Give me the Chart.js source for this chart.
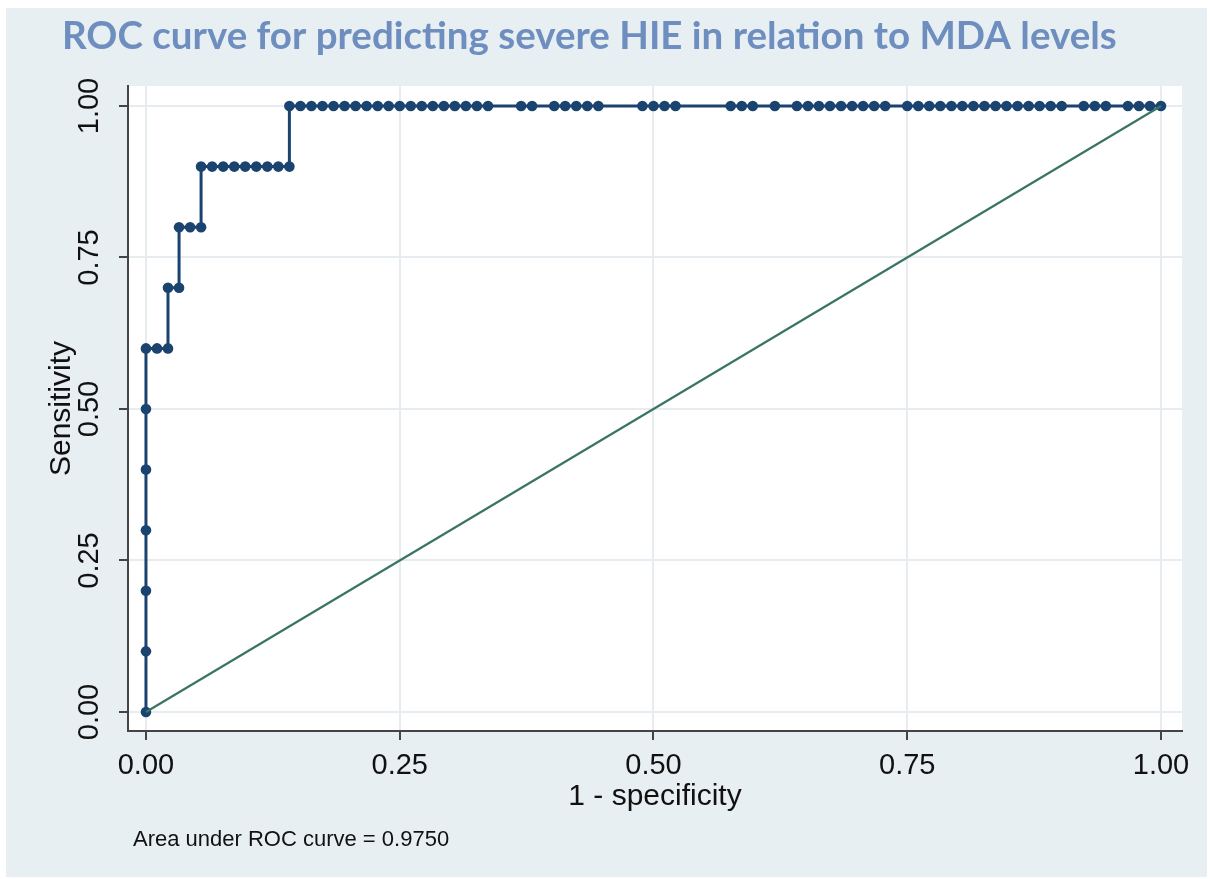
<!DOCTYPE html>
<html>
<head>
<meta charset="utf-8">
<title>ROC curve</title>
<script src="https://cdn.jsdelivr.net/npm/chart.js@4.4.1/dist/chart.umd.min.js"></script>
<style>
  html, body { margin: 0; padding: 0; background: #fff; }
  canvas { display: block; }
</style>
</head>
<body>
<canvas id="rocChart" width="1210" height="879"></canvas>
<script>
// ROC points (1 - specificity, sensitivity)
const oneMinusSpec = [
    0, 0, 0, 0, 0, 0, 0,
    0.0109, 0.0217, 0.0217, 0.0326, 0.0326, 0.0435, 0.0543, 0.0543,
    0.0652, 0.0761, 0.0870, 0.0978, 0.1087, 0.1196, 0.1304, 0.1413, 0.1413,
    0.1522, 0.1630, 0.1739, 0.1848, 0.1957, 0.2065, 0.2174, 0.2283, 0.2391,
    0.2500, 0.2609, 0.2717, 0.2826, 0.2935, 0.3043, 0.3152, 0.3261, 0.3370,
    0.3696, 0.3804,
    0.4022, 0.4130, 0.4239, 0.4348, 0.4457,
    0.4891, 0.5000, 0.5109, 0.5217,
    0.5761, 0.5870, 0.5978,
    0.6196,
    0.6413, 0.6522, 0.6630, 0.6739, 0.6848, 0.6957, 0.7065, 0.7174, 0.7283,
    0.7500, 0.7609, 0.7717, 0.7826, 0.7935, 0.8043, 0.8152, 0.8261, 0.8370,
    0.8478, 0.8587, 0.8696, 0.8804, 0.8913, 0.9022,
    0.9239, 0.9348, 0.9457,
    0.9674, 0.9783, 0.9891, 1
];
const sensitivity = [
    0, 0.1, 0.2, 0.3, 0.4, 0.5, 0.6,
    0.6, 0.6, 0.7, 0.7, 0.8, 0.8, 0.8, 0.9,
    0.9, 0.9, 0.9, 0.9, 0.9, 0.9, 0.9, 0.9, 1,
    1, 1, 1, 1, 1, 1, 1, 1, 1, 1, 1, 1, 1, 1, 1, 1,
    1, 1, 1, 1, 1, 1, 1, 1, 1, 1, 1, 1, 1, 1, 1, 1,
    1, 1, 1, 1, 1, 1, 1, 1, 1, 1, 1, 1, 1, 1, 1, 1,
    1, 1, 1, 1, 1, 1, 1, 1, 1, 1, 1, 1, 1, 1, 1, 1
];

// reference line
const refX = [0, 1];
const refY = [0, 1];

const xTicks = [0, 0.25, 0.5, 0.75, 1];
const yTicks = [0, 0.25, 0.5, 0.75, 1];

const titleText = 'ROC curve for predicting severe HIE in relation to MDA levels';
const aucNote = 'Area under ROC curve = 0.9750';

const navy = '#1b4370';
const green = '#3a7563';
const tickFont = { family: '"Liberation Sans", Arial, sans-serif', size: 29 };
const titleFont = { family: '"Liberation Sans", Arial, sans-serif', size: 30 };

// panel background, white plot region, heading and note
const backdrop = {
    id: 'backdrop',
    beforeDraw(chart) {
        const { ctx, chartArea: a } = chart;
        ctx.save();
        ctx.fillStyle = '#e8eff2';
        ctx.fillRect(6, 8, chart.width - 9, chart.height - 10);
        ctx.fillStyle = '#ffffff';
        ctx.fillRect(a.left, a.top, a.right - a.left, a.bottom - a.top);
        ctx.restore();
    },
    afterDraw(chart) {
        const ctx = chart.ctx;
        ctx.save();
        ctx.textBaseline = 'alphabetic';
        ctx.font = 'bold 38.5px Lato, "Open Sans", sans-serif';
        ctx.fillStyle = '#6d8ebf';
        ctx.fillText(titleText, 62, 49);
        ctx.font = '22px "Liberation Sans", Arial, sans-serif';
        ctx.fillStyle = '#111';
        ctx.fillText(aucNote, 133, 846);
        ctx.restore();
    }
};

const ctx = document.getElementById('rocChart').getContext('2d');
new Chart(ctx, {
    type: 'scatter',
    data: {
        datasets: [{
            label: 'Reference',
            data: refX.map((x, i) => ({ x: x, y: refY[i] })),
            showLine: true,
            borderColor: green,
            borderWidth: 2.2,
            pointRadius: 0,
            order: 0
        }, {
            label: 'ROC',
            data: oneMinusSpec.map((x, i) => ({ x: x, y: sensitivity[i] })),
            showLine: true,
            borderColor: navy,
            borderWidth: 3,
            pointRadius: 5.3,
            pointBackgroundColor: navy,
            pointBorderWidth: 0,
            tension: 0,
            order: 1
        }]
    },
    options: {
        responsive: false,
        animation: false,
        devicePixelRatio: 1,
        layout: { padding: { left: 44, right: 28, top: 86, bottom: 58 } },
        plugins: {
            legend: { display: false },
            tooltip: { enabled: false },
            title: { display: false }
        },
        scales: {
            x: {
                type: 'linear',
                min: -0.0177,
                max: 1.0207,
                afterBuildTicks: s => { s.ticks = xTicks.map(v => ({ value: v })); },
                afterFit: s => { s.height = 90; },
                grid: { color: '#e6ecef', lineWidth: 2, tickLength: 9, tickColor: '#444', tickWidth: 2 },
                border: { color: '#444', width: 2 },
                ticks: {
                    font: tickFont,
                    color: '#111',
                    padding: 9,
                    maxRotation: 0,
                    callback: v => v.toFixed(2)
                },
                title: {
                    display: true,
                    text: '1 - specificity',
                    font: titleFont,
                    color: '#111',
                    padding: { top: 0, bottom: 6 }
                }
            },
            y: {
                type: 'linear',
                min: -0.0314,
                max: 1.033,
                afterBuildTicks: s => { s.ticks = yTicks.map(v => ({ value: v })); },
                afterFit: s => { s.width = 84; },
                grid: { color: '#e6ecef', lineWidth: 2, tickLength: 9, tickColor: '#444', tickWidth: 2 },
                border: { color: '#444', width: 2 },
                ticks: {
                    font: tickFont,
                    color: '#111',
                    padding: 1,
                    minRotation: 90,
                    maxRotation: 90,
                    crossAlign: 'center',
                    callback: v => v.toFixed(2)
                },
                title: {
                    display: true,
                    text: 'Sensitivity',
                    font: titleFont,
                    color: '#111',
                    padding: { top: 0, bottom: 0 }
                }
            }
        }
    },
    plugins: [backdrop]
});
</script>
</body>
</html>
